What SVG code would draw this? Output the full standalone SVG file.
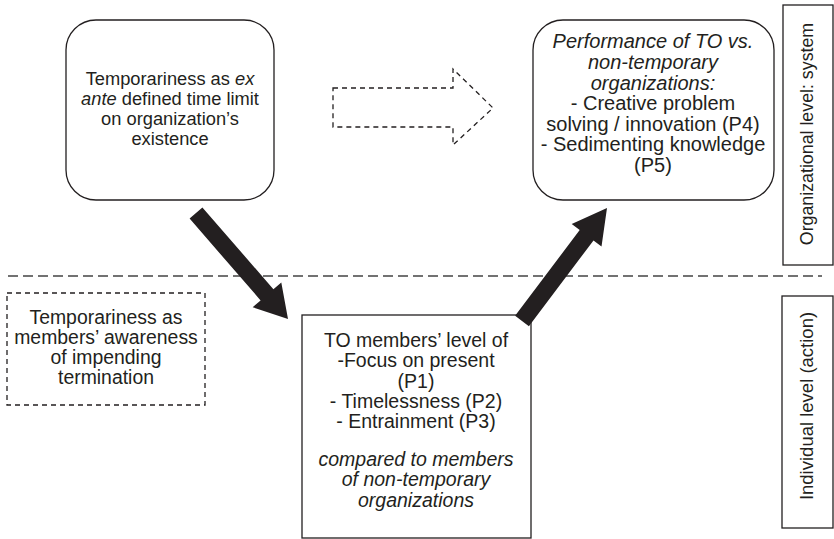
<svg xmlns="http://www.w3.org/2000/svg" width="834" height="539" viewBox="0 0 834 539">
<style>
text{font-family:"Liberation Sans",Arial,sans-serif;fill:#231f20;text-anchor:middle}
.it{font-style:italic}
.t1{font-size:18.3px}
.t2{font-size:20px}
.t3{font-size:19.4px}
.t4{font-size:19.5px}
.box{fill:#fff;stroke:#231f20;stroke-width:1.3}
.dash{fill:none;stroke:#231f20;stroke-width:1.3;stroke-dasharray:5 4}
.big{fill:#231f20;stroke:none}
</style>
<rect width="834" height="539" fill="#fff"/>
<g id="separator">
<line x1="8" y1="276" x2="822" y2="276" stroke="#444" stroke-width="1.3" stroke-dasharray="10 5"/>
</g>
<g id="node-exante" class="t1">
<rect class="box" x="66" y="20" width="208" height="180" rx="30"/>
<text x="170" y="85">Temporariness as <tspan class="it">ex</tspan></text>
<text x="170" y="105"><tspan class="it">ante</tspan> defined time limit</text>
<text x="170" y="125">on organization’s</text>
<text x="170" y="145">existence</text>
</g>
<g id="node-performance" class="t2">
<rect class="box" x="533" y="20" width="241" height="180" rx="30"/>
<text class="it" x="653" y="48">Performance of TO vs.</text>
<text class="it" x="653" y="69">non-temporary</text>
<text class="it" x="653" y="89.5">organizations:</text>
<text x="653" y="110">- Creative problem</text>
<text x="653" y="130.5">solving / innovation (P4)</text>
<text x="653" y="151">- Sedimenting knowledge</text>
<text x="653" y="172">(P5)</text>
</g>
<g id="node-awareness" class="t3">
<rect class="dash" x="7" y="293" width="198" height="112"/>
<text x="106" y="324">Temporariness as</text>
<text x="106" y="344">members’ awareness</text>
<text x="106" y="364">of impending</text>
<text x="106" y="384">termination</text>
</g>
<g id="node-members" class="t4">
<rect class="box" x="302" y="315" width="229" height="223"/>
<text x="416" y="347">TO members’ level of</text>
<text x="416" y="367.3">-Focus on present</text>
<text x="416" y="387.6">(P1)</text>
<text x="416" y="408">- Timelessness (P2)</text>
<text x="416" y="428">- Entrainment (P3)</text>
<text class="it" x="416" y="466">compared to members</text>
<text class="it" x="416" y="486.3">of non-temporary</text>
<text class="it" x="416" y="506.6">organizations</text>
</g>
<g id="label-org">
<rect class="box" x="783" y="5" width="50" height="260"/>
<text x="0" y="0" style="font-size:17.8px" transform="translate(813 134) rotate(-90)">Organizational level: system</text>
</g>
<g id="label-ind">
<rect class="box" x="782" y="296" width="51" height="232"/>
<text x="0" y="0" style="font-size:18.5px" transform="translate(813 406) rotate(-90)">Individual level (action)</text>
</g>
<g id="connectors">
<polygon class="dash" points="333,88 453,88 453,69 493,108 453,145 453,127 333,127"/>
<polygon class="big" points="189.6,218.6 260.6,300.4 252.7,307.2 288,319 281.3,282.4 273.4,289.2 202.4,207.4"/>
<polygon class="big" points="515.1,315.8 579.7,230 571.7,224 607,208 601.5,246.4 593.5,240.4 528.9,326.2"/>
</g>
</svg>
